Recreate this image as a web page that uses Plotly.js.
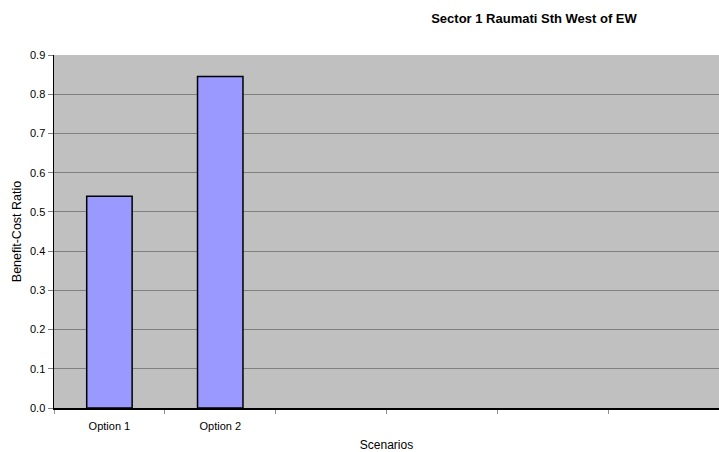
<!DOCTYPE html>
<html>
<head>
<meta charset="utf-8">
<script src="https://cdn.plot.ly/plotly-3.0.1.min.js"></script>
<style>
  html, body { margin: 0; padding: 0; background: #ffffff; }
  #chart { width: 719px; height: 452px; }
</style>
</head>
<body>
<div id="chart"></div>
<script>
// Benefit-cost ratio per scenario
const categories = ["Option 1", "Option 2"];
const ratios = [0.54, 0.845];
const slotCount = 6; // category slots shown on the x axis
const yTicks = [0, 0.1, 0.2, 0.3, 0.4, 0.5, 0.6, 0.7, 0.8, 0.9];
const yTickLabels = ["0.0", "0.1", "0.2", "0.3", "0.4", "0.5", "0.6", "0.7", "0.8", "0.9"];

const positions = categories.map((_, i) => i);
const boundaries = [];
for (let i = 0; i <= slotCount; i++) boundaries.push(i - 0.5);

const font = "Liberation Sans, Arial, sans-serif";

const trace = {
  type: "bar",
  x: positions,
  y: ratios,
  width: 0.41,
  marker: { color: "#9999FF", line: { color: "#000000", width: 1.5 } },
  hoverinfo: "skip"
};

const layout = {
  width: 719,
  height: 452,
  margin: { l: 54, r: 0, t: 55, b: 44 },
  paper_bgcolor: "#ffffff",
  plot_bgcolor: "#C0C0C0",
  showlegend: false,
  font: { family: font, size: 11, color: "#000000" },
  title: {
    text: "<b>Sector 1 Raumati Sth West of EW</b>",
    font: { family: font, size: 13, color: "#000000" },
    x: 519 / 719, xref: "paper", xanchor: "center",
    y: 1 - 18 / 452, yref: "container", yanchor: "middle"
  },
  xaxis: {
    type: "linear",
    range: [-0.5, slotCount - 0.5],
    tickmode: "array",
    tickvals: positions,
    ticktext: categories,
    ticks: "",
    ticklabelstandoff: 7,
    showgrid: false,
    zeroline: false,
    showline: true,
    linecolor: "#000000",
    linewidth: 1.5,
    tickfont: { family: font, size: 11 },
    minor: {
      tickmode: "array",
      tickvals: boundaries,
      ticks: "outside",
      ticklen: 4,
      tickcolor: "#909090",
      tickwidth: 1,
      showgrid: false
    },
    title: { text: "Scenarios", font: { family: font, size: 12 }, standoff: 13 }
  },
  yaxis: {
    range: [0, 0.9],
    tickmode: "array",
    tickvals: yTicks,
    ticktext: yTickLabels,
    ticks: "outside",
    ticklen: 5,
    tickcolor: "#808080",
    tickfont: { family: font, size: 11 },
    showgrid: true,
    gridcolor: "#808080",
    gridwidth: 1,
    zeroline: false,
    showline: true,
    linecolor: "#000000",
    linewidth: 1.5,
    title: { text: "Benefit-Cost Ratio", font: { family: font, size: 12.5 }, standoff: 5 }
  }
};

Plotly.newPlot("chart", [trace], layout, { displayModeBar: false, staticPlot: true });
</script>
</body>
</html>
